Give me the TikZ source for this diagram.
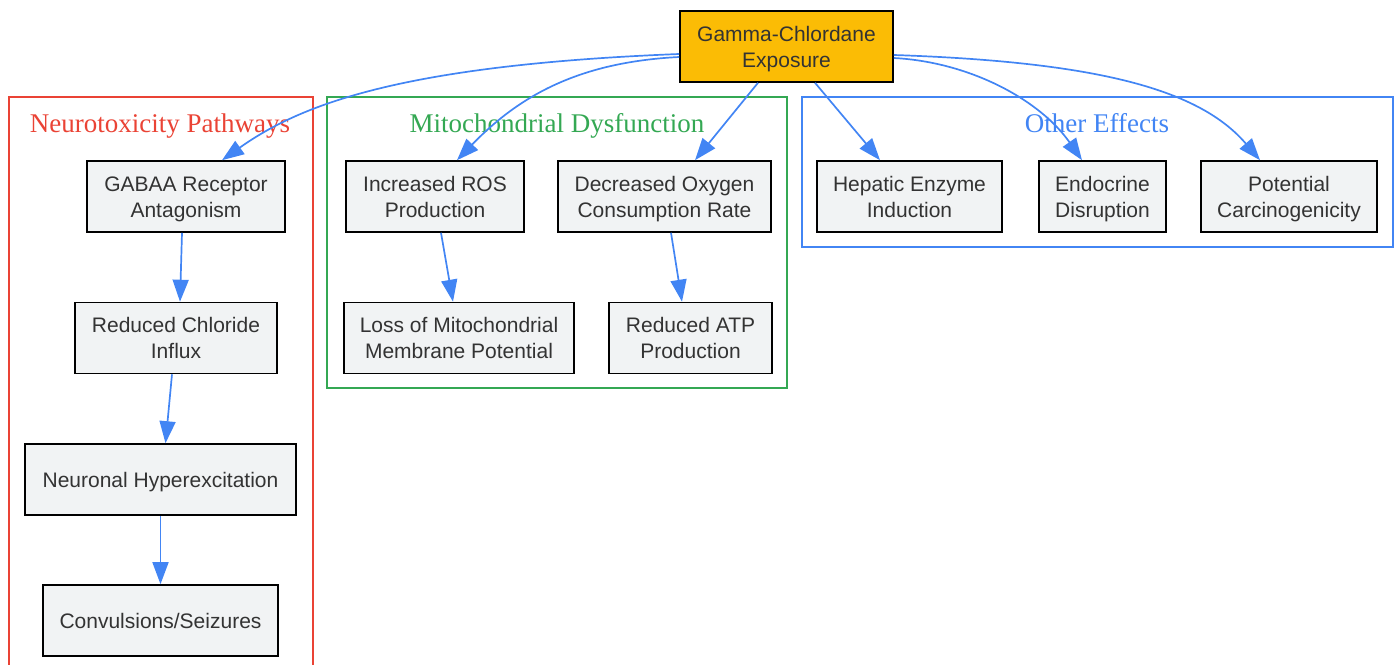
\documentclass[tikz,border=0pt]{standalone}
\usepackage{fontspec}
\setmainfont{Liberation Serif}
\newfontfamily\nodefont{Liberation Sans}
\usetikzlibrary{arrows.meta,calc}
\definecolor{nodefill}{HTML}{F1F3F4}
\definecolor{gold}{HTML}{FBBC05}
\definecolor{txt}{HTML}{333333}
\definecolor{gred}{HTML}{EA4335}
\definecolor{ggreen}{HTML}{34A853}
\definecolor{gblue}{HTML}{4285F4}
\newcommand{\lnstrut}{\rule[-4.5pt]{0pt}{24pt}}
\tikzset{
  box/.style={draw=black, line width=1.6pt, fill=nodefill, minimum height=71pt,
    inner sep=0pt, align=center, text=txt, font=\nodefont\fontsize{21}{26}\selectfont},
  root/.style={box, fill=gold},
  clab/.style={font=\fontsize{27}{30}\selectfont, inner sep=0pt, text height=18pt, text depth=6pt},
  conn/.style={draw=gblue, line width=1.7pt, -{Triangle[length=22pt,width=16pt]}},
  clus/.style={line width=1.5pt}
}
\begin{document}
\begin{tikzpicture}[x=1pt,y=-1pt]
\useasboundingbox (0,0) rectangle (1399,664);
% clusters
\draw[clus, gred] (9,97) rectangle (313,668);
\draw[clus, ggreen] (327,97) rectangle (787,388);
\draw[clus, gblue] (802,97) rectangle (1393,247);
\node[clab, text=gred] (labneuro) at (160,126.5) {Neurotoxicity Pathways};
\node[clab, text=ggreen] (labmito) at (557,126.5) {Mitochondrial Dysfunction};
\node[clab, text=gblue] (labother) at (1097,126.5) {Other Effects};
% nodes
\node[root, minimum width=213pt] (gamma) at (786.5,46.5) {\lnstrut Gamma-Chlordane\\\lnstrut Exposure};
\node[box, minimum width=198pt] (gaba) at (186,196.5) {\lnstrut GABAA Receptor\\\lnstrut Antagonism};
\node[box, minimum width=202pt] (chlor) at (176,338) {\lnstrut Reduced Chloride\\\lnstrut Influx};
\node[box, minimum width=271pt, text height=15.5pt, text depth=0pt] (hyper) at (160.5,479.5) {Neuronal Hyperexcitation};
\node[box, minimum width=235pt, text height=15.5pt, text depth=0pt] (conv) at (160.5,620.5) {Convulsions/Seizures};
\node[box, minimum width=178pt] (ros) at (435,196.5) {\lnstrut Increased ROS\\\lnstrut Production};
\node[box, minimum width=213pt] (oxy) at (664.5,196.5) {\lnstrut Decreased Oxygen\\\lnstrut Consumption Rate};
\node[box, minimum width=230pt] (loss) at (459,338) {\lnstrut Loss of Mitochondrial\\\lnstrut Membrane Potential};
\node[box, minimum width=163pt] (atp) at (690.5,338) {\lnstrut Reduced ATP\\\lnstrut Production};
\node[box, minimum width=185pt] (hep) at (909.5,196.5) {\lnstrut Hepatic Enzyme\\\lnstrut Induction};
\node[box, minimum width=127pt] (endo) at (1102.5,196.5) {\lnstrut Endocrine\\\lnstrut Disruption};
\node[box, minimum width=176pt] (carc) at (1289,196.5) {\lnstrut Potential\\\lnstrut Carcinogenicity};
% edges from root
\draw[conn] ([yshift=-7.5pt]gamma.west) .. controls (400,65) and (300,105) .. ([xshift=36pt]gaba.north);
\draw[conn] ([yshift=-10.5pt]gamma.west) .. controls (580,62) and (520,95) .. ([xshift=22pt]ros.north);
\draw[conn] ([xshift=-28.5pt]gamma.south) -- ([xshift=30.5pt]oxy.north);
\draw[conn] ([xshift=28.5pt]gamma.south) -- ([xshift=-29.5pt]hep.north);
\draw[conn] ([yshift=-11.5pt]gamma.east) .. controls (970,62) and (1040,100) .. ([xshift=-20.5pt]endo.north);
\draw[conn] ([yshift=-8.5pt]gamma.east) .. controls (1100,62) and (1200,90) .. ([xshift=-29pt]carc.north);
% inner edges
\draw[conn] ([xshift=-4pt]gaba.south) -- ([xshift=4pt]chlor.north);
\draw[conn] ([xshift=-4pt]chlor.south) -- ([xshift=5pt]hyper.north);
\draw[conn] (hyper.south) -- (conv.north);
\draw[conn] ([xshift=6pt]ros.south) -- ([xshift=-6pt]loss.north);
\draw[conn] ([xshift=6.5pt]oxy.south) -- ([xshift=-8.5pt]atp.north);
\end{tikzpicture}
\end{document}
